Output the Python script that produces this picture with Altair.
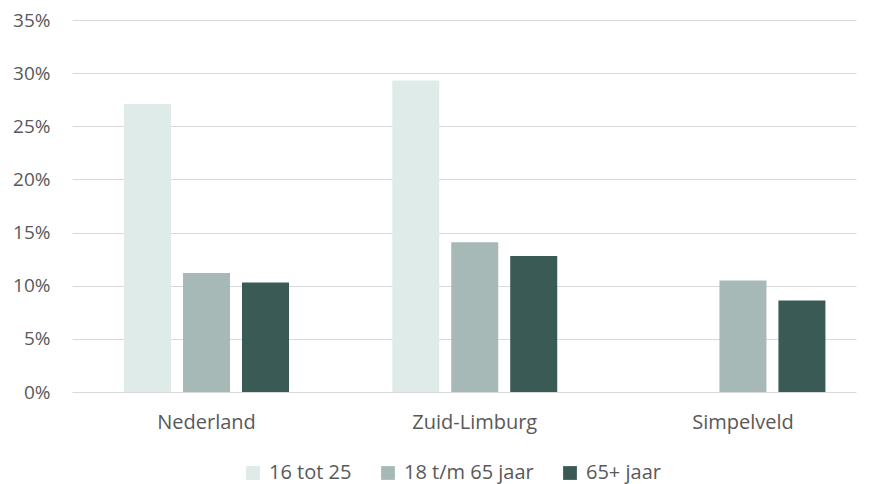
import altair as alt
import pandas as pd

regions = ["Nederland", "Zuid-Limburg", "Simpelveld"]
groups = ["16 tot 25", "18 t/m 65 jaar", "65+ jaar"]
colors = ["#dfebe8", "#a6b9b6", "#3a5b55"]

v_16_25 = [0.271, 0.293, None]
v_18_65 = [0.112, 0.141, 0.105]
v_65plus = [0.103, 0.128, 0.086]

rows = []
for series, vals in zip(groups, [v_16_25, v_18_65, v_65plus]):
    for r, v in zip(regions, vals):
        if v is not None:
            rows.append({"regio": r, "groep": series, "waarde": v})
df = pd.DataFrame(rows)

FONT = "Open Sans"
GRAY = "#595959"

chart = alt.Chart(df).mark_bar().encode(
    x=alt.X("regio:N", sort=regions, title=None,
            scale=alt.Scale(paddingInner=0.385, paddingOuter=0.154, align=0.63),
            axis=alt.Axis(labelAngle=0, ticks=False, domain=False, labelPadding=20,
                          labelFontSize=20, labelColor=GRAY, labelFont=FONT)),
    xOffset=alt.XOffset("groep:N", sort=groups,
                        scale=alt.Scale(paddingInner=0.203, paddingOuter=0)),
    y=alt.Y("waarde:Q", title=None,
            scale=alt.Scale(domain=[0, 0.35], nice=False),
            axis=alt.Axis(format=".0%", values=[0, 0.05, 0.1, 0.15, 0.2, 0.25, 0.3, 0.35],
                          ticks=False, domain=False, labelPadding=22,
                          labelFontSize=19, labelColor=GRAY, labelFont=FONT,
                          gridColor="#d9d9d9", gridWidth=1.2)),
    color=alt.Color("groep:N", sort=groups,
                    scale=alt.Scale(domain=groups, range=colors),
                    legend=alt.Legend(title=None, orient="none", direction="horizontal",
                                      legendX=171, legendY=443,
                                      symbolType="square", symbolSize=190,
                                      symbolStrokeWidth=0,
                                      labelFontSize=20, labelColor=GRAY, labelFont=FONT,
                                      labelOffset=6, columnPadding=26)),
).properties(
    width=784, height=372,
    autosize=alt.AutoSizeParams(type="none"),
    padding={"left": 64, "top": 12, "right": 9, "bottom": 92},
).configure_view(stroke=None)

chart.save("out.html", embed_options={"renderer": "svg", "actions": False})
